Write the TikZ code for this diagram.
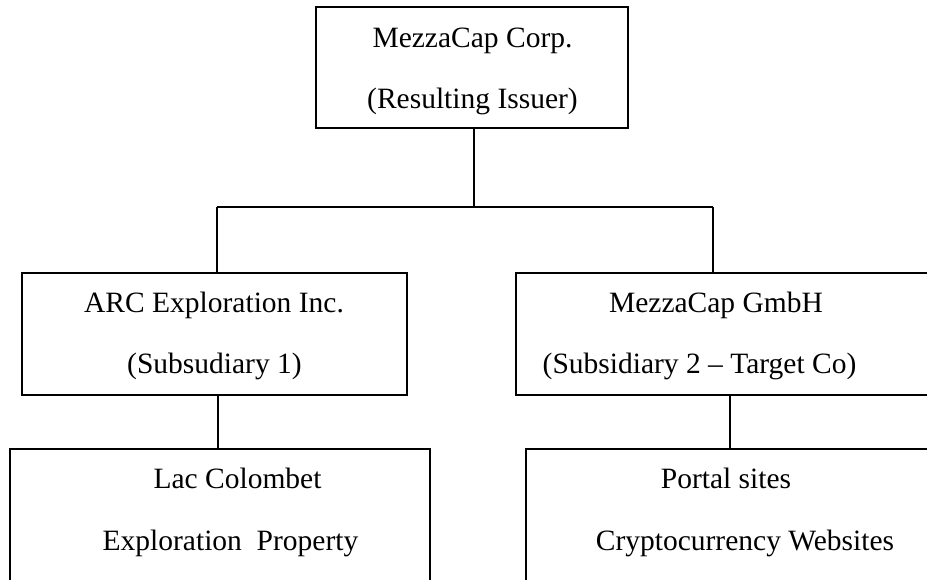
\documentclass[tikz,border=0pt]{standalone}
\usepackage{fontspec}
\setmainfont{Liberation Serif}
\begin{document}
\begin{tikzpicture}[x=1pt,y=-1pt,
  box/.style={draw=black,line width=2.2pt,rectangle,inner sep=0pt,outer sep=0pt},
  txt/.style={anchor=base,inner sep=0pt,font=\fontsize{29.5}{34}\selectfont},
  conn/.style={draw=black,line width=2.2pt}]
\useasboundingbox (0,0) rectangle (927,579);
\clip (0,0) rectangle (927,579);
% boxes
\node[box,minimum width=312pt,minimum height=121pt] (top) at (472,67.5) {};
\node[box,minimum width=385pt,minimum height=122pt] (midL) at (214.5,334) {};
\node[box,minimum width=484pt,minimum height=122pt] (midR) at (758,334) {};
\node[box,minimum width=420pt,minimum height=180pt] (botL) at (220,539) {};
\node[box,minimum width=474pt,minimum height=180pt] (botR) at (763,539) {};
% texts
\node[txt] (t1) at (472.5,47) {MezzaCap Corp.};
\node[txt] (t2) at (472.5,108) {(Resulting Issuer)};
\node[txt] (l1) at (214,312) {ARC Exploration Inc.};
\node[txt] (l2) at (214.5,373) {(Subsudiary 1)};
\node[txt] (r1) at (716,312) {MezzaCap GmbH};
\node[txt] (r2) at (699.5,373) {(Subsidiary 2 – Target Co)};
\node[txt] (bl1) at (237.5,488) {Lac Colombet};
\node[txt] (bl2) at (230.5,550) {Exploration\ \ Property};
\node[txt] (br1) at (726,488) {Portal sites};
\node[txt] (br2) at (745,550) {Cryptocurrency Websites};
% connectors
\coordinate (j) at (474,207);
\coordinate (jl) at (217,207);
\coordinate (jr) at (713,207);
\draw[conn] (top.south -| j) -- (j);
\draw[conn] (jl) -- (jr);
\draw[conn] (jl) -- (jl |- midL.north);
\draw[conn] (jr) -- (jr |- midR.north);
\draw[conn] ([xshift=3.5pt]midL.south) -- ([xshift=3.5pt]midL.south |- botL.north);
\draw[conn] ([xshift=-28pt]midR.south) -- ([xshift=-28pt]midR.south |- botR.north);
\end{tikzpicture}
\end{document}
